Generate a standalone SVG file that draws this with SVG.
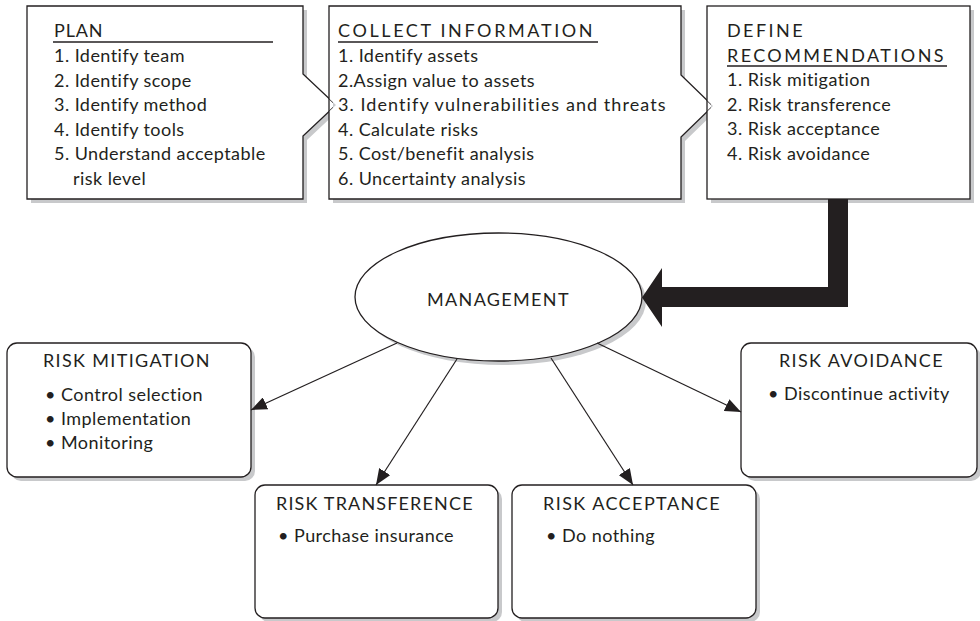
<svg xmlns="http://www.w3.org/2000/svg" width="980" height="621" viewBox="0 0 980 621">
<defs>
<style>
.t{font-family:Lato,"Open Sans","Liberation Sans",sans-serif;font-size:18px;fill:#231f20;letter-spacing:0.45px}
.m{text-anchor:middle}
.sh{fill:#c8c9cb;stroke:none}
.fl{fill:#fff;stroke:none}
.ol{fill:none;stroke:#231f20;stroke-width:1.3}
.bx{fill:#fff;stroke:#231f20;stroke-width:1.3}
.ul{stroke:#231f20;stroke-width:1.6}
.ln{fill:none;stroke:#231f20;stroke-width:1.2;marker-end:url(#ah)}
.thick{fill:#231f20;stroke:none}
</style>
<marker id="ah" markerUnits="userSpaceOnUse" viewBox="0 0 16 13" refX="16" refY="6.5" markerWidth="16" markerHeight="13" orient="auto">
<path d="M0,0 L16,6.5 L0,13 Z" fill="#231f20"/>
</marker>
</defs>
<rect width="980" height="621" fill="#fff"/>

<g id="plan">
<path class="sh" d="M31,10 H307 V78 L340,109 L307,140 V203 H31 Z"/>
<path class="bx" d="M27,6 H303 V74 L336,105 L303,136 V199 H27 Z"/>
<text class="t" x="54" y="37" textLength="49" lengthAdjust="spacing">PLAN</text>
<line class="ul" x1="53" y1="42" x2="273" y2="42"/>
<text class="t" x="54" y="62">1. Identify team</text>
<text class="t" x="54" y="86.5">2. Identify scope</text>
<text class="t" x="54" y="111">3. Identify method</text>
<text class="t" x="54" y="135.5">4. Identify tools</text>
<text class="t" x="54" y="160">5. Understand acceptable</text>
<text class="t" x="73" y="184.5">risk level</text>
</g>

<g id="collect">
<path class="sh" d="M333,10 H685 V79 L717,110 L685,141 V203 H333 Z"/>
<path class="fl" d="M329,6 H681 V75 L713,106 L681,137 V199 H329 V111.6 L336,105 L329,98.4 Z"/>
<path class="ol" d="M329,6 H681 V75 L713,106 L681,137 V199 H329 Z"/>
<text class="t" x="338" y="37" textLength="255" lengthAdjust="spacing">COLLECT INFORMATION</text>
<line class="ul" x1="338" y1="42" x2="598" y2="42"/>
<text class="t" x="338" y="62">1. Identify assets</text>
<text class="t" x="338" y="86.5">2.Assign value to assets</text>
<text class="t" x="338" y="111" textLength="328" lengthAdjust="spacing">3. Identify vulnerabilities and threats</text>
<text class="t" x="338" y="135.5">4. Calculate risks</text>
<text class="t" x="338" y="160">5. Cost/benefit analysis</text>
<text class="t" x="338" y="184.5">6. Uncertainty analysis</text>
</g>

<g id="define">
<rect class="sh" x="711" y="10" width="263" height="193"/>
<path class="fl" d="M707,6 H970 V199 H707 V111.8 L713,106 L707,100.2 Z"/>
<rect class="ol" x="707" y="6" width="263" height="193"/>
<text class="t" x="727" y="37" textLength="76" lengthAdjust="spacing">DEFINE</text>
<text class="t" x="727" y="61.5" textLength="217" lengthAdjust="spacing">RECOMMENDATIONS</text>
<line class="ul" x1="727" y1="66" x2="947" y2="66"/>
<text class="t" x="727" y="86">1. Risk mitigation</text>
<text class="t" x="727" y="110.5">2. Risk transference</text>
<text class="t" x="727" y="135">3. Risk acceptance</text>
<text class="t" x="727" y="159.5">4. Risk avoidance</text>
</g>

<g id="management">
<ellipse class="sh" cx="502.5" cy="301" rx="143.5" ry="64"/>
<ellipse class="bx" cx="498.5" cy="297" rx="143.5" ry="64"/>
<text class="t" x="427" y="306" textLength="142" lengthAdjust="spacing">MANAGEMENT</text>
</g>

<g id="risk-mitigation">
<rect class="sh" x="11" y="347" width="244" height="134" rx="10"/>
<rect class="bx" x="7" y="343" width="244" height="134" rx="10"/>
<text class="t" x="43" y="367" textLength="167" lengthAdjust="spacing">RISK MITIGATION</text>
<text class="t" x="45" y="401">• Control selection</text>
<text class="t" x="45" y="425">• Implementation</text>
<text class="t" x="45" y="449">• Monitoring</text>
</g>

<g id="risk-transference">
<rect class="sh" x="259" y="489" width="243" height="133" rx="10"/>
<rect class="bx" x="255" y="485" width="243" height="133" rx="10"/>
<text class="t" x="276" y="510" textLength="197" lengthAdjust="spacing">RISK TRANSFERENCE</text>
<text class="t" x="278" y="542">• Purchase insurance</text>
</g>

<g id="risk-acceptance">
<rect class="sh" x="516" y="489" width="244" height="133" rx="10"/>
<rect class="bx" x="512" y="485" width="244" height="133" rx="10"/>
<text class="t" x="543" y="510" textLength="177" lengthAdjust="spacing">RISK ACCEPTANCE</text>
<text class="t" x="546" y="542">• Do nothing</text>
</g>

<g id="risk-avoidance">
<rect class="sh" x="745" y="347" width="236" height="134" rx="10"/>
<rect class="bx" x="741" y="343" width="236" height="134" rx="10"/>
<text class="t" x="779" y="367" textLength="164" lengthAdjust="spacing">RISK AVOIDANCE</text>
<text class="t" x="768" y="400">• Discontinue activity</text>
</g>

<g id="connectors">
<path class="thick" d="M828,199 H848 V307 H662 V327 L642,297.5 L662,268 V287 H828 Z"/>
<line class="ln" x1="397" y1="343" x2="251" y2="410"/>
<line class="ln" x1="457" y1="359" x2="376" y2="485"/>
<line class="ln" x1="551" y1="358" x2="633" y2="485"/>
<line class="ln" x1="597" y1="343" x2="741" y2="412"/>
</g>
</svg>
